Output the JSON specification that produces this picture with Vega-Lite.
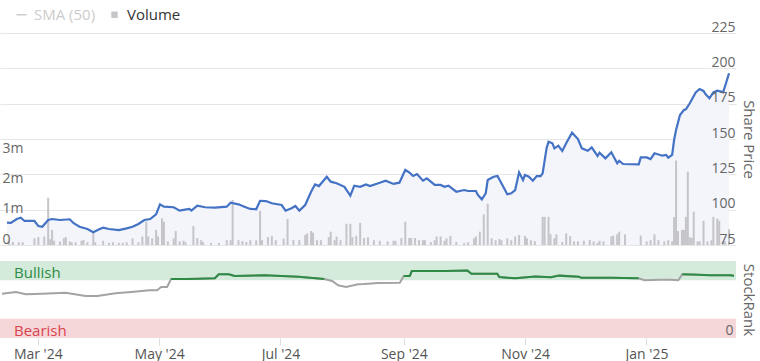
{
  "$schema": "https://vega.github.io/schema/vega-lite/v6.json",
  "padding": {"left": -3, "top": 7, "right": 0, "bottom": 0},
  "config": {"view": {"stroke": null}, "font": "Open Sans"},
  "spacing": 15,
  "datasets": {
    "price": [
      {"date": "2024-02-12", "price": 90.8}, {"date": "2024-02-14", "price": 90.6}, {"date": "2024-02-17", "price": 93.4}, {"date": "2024-02-19", "price": 94.3}, {"date": "2024-02-21", "price": 92.0}, {"date": "2024-02-26", "price": 92.0}, {"date": "2024-02-28", "price": 88.4},
      {"date": "2024-03-01", "price": 87.9}, {"date": "2024-03-04", "price": 92.7}, {"date": "2024-03-06", "price": 93.4}, {"date": "2024-03-10", "price": 92.7}, {"date": "2024-03-15", "price": 93.2}, {"date": "2024-03-17", "price": 90.4}, {"date": "2024-03-20", "price": 87.9}, {"date": "2024-03-24", "price": 86.3}, {"date": "2024-03-27", "price": 84.0}, {"date": "2024-03-30", "price": 86.1},
      {"date": "2024-04-01", "price": 87.2}, {"date": "2024-04-04", "price": 86.3}, {"date": "2024-04-09", "price": 85.6}, {"date": "2024-04-13", "price": 86.8}, {"date": "2024-04-16", "price": 87.9}, {"date": "2024-04-19", "price": 89.9}, {"date": "2024-04-22", "price": 92.7}, {"date": "2024-04-25", "price": 93.4}, {"date": "2024-04-28", "price": 96.7}, {"date": "2024-04-30", "price": 103.8},
      {"date": "2024-05-02", "price": 102.1}, {"date": "2024-05-07", "price": 101.7}, {"date": "2024-05-10", "price": 99.3}, {"date": "2024-05-12", "price": 99.8}, {"date": "2024-05-15", "price": 100.5}, {"date": "2024-05-16", "price": 99.3}, {"date": "2024-05-19", "price": 102.8}, {"date": "2024-05-23", "price": 101.7}, {"date": "2024-05-28", "price": 101.4},
      {"date": "2024-06-03", "price": 102.1}, {"date": "2024-06-05", "price": 104.9}, {"date": "2024-06-09", "price": 103.8}, {"date": "2024-06-12", "price": 102.1}, {"date": "2024-06-15", "price": 100.5}, {"date": "2024-06-18", "price": 100.3}, {"date": "2024-06-20", "price": 106.3}, {"date": "2024-06-23", "price": 106.1}, {"date": "2024-06-26", "price": 104.5},
      {"date": "2024-07-01", "price": 103.3}, {"date": "2024-07-03", "price": 99.3}, {"date": "2024-07-06", "price": 101.0}, {"date": "2024-07-08", "price": 102.6}, {"date": "2024-07-10", "price": 99.3}, {"date": "2024-07-13", "price": 103.3}, {"date": "2024-07-16", "price": 112.7}, {"date": "2024-07-18", "price": 117.9}, {"date": "2024-07-20", "price": 116.7}, {"date": "2024-07-24", "price": 123.3}, {"date": "2024-07-26", "price": 119.8}, {"date": "2024-07-29", "price": 118.7},
      {"date": "2024-08-02", "price": 116.2}, {"date": "2024-08-05", "price": 109.9}, {"date": "2024-08-07", "price": 117.0}, {"date": "2024-08-10", "price": 116.2}, {"date": "2024-08-13", "price": 117.9}, {"date": "2024-08-15", "price": 116.7}, {"date": "2024-08-20", "price": 119.0}, {"date": "2024-08-23", "price": 120.5}, {"date": "2024-08-27", "price": 118.2}, {"date": "2024-08-30", "price": 119.1},
      {"date": "2024-09-02", "price": 128.1}, {"date": "2024-09-04", "price": 126.4}, {"date": "2024-09-06", "price": 123.8}, {"date": "2024-09-08", "price": 125.2}, {"date": "2024-09-11", "price": 120.5}, {"date": "2024-09-13", "price": 122.2}, {"date": "2024-09-17", "price": 117.5}, {"date": "2024-09-20", "price": 117.5}, {"date": "2024-09-22", "price": 116.2}, {"date": "2024-09-24", "price": 117.0}, {"date": "2024-09-28", "price": 112.7},
      {"date": "2024-10-02", "price": 113.9}, {"date": "2024-10-04", "price": 113.2}, {"date": "2024-10-08", "price": 113.2}, {"date": "2024-10-09", "price": 110.4}, {"date": "2024-10-11", "price": 107.3}, {"date": "2024-10-13", "price": 111.6}, {"date": "2024-10-14", "price": 121.0}, {"date": "2024-10-17", "price": 123.3}, {"date": "2024-10-19", "price": 123.8}, {"date": "2024-10-21", "price": 118.7}, {"date": "2024-10-24", "price": 110.9}, {"date": "2024-10-26", "price": 111.6}, {"date": "2024-10-28", "price": 113.9}, {"date": "2024-10-30", "price": 126.4},
      {"date": "2024-11-01", "price": 121.0}, {"date": "2024-11-02", "price": 124.5}, {"date": "2024-11-04", "price": 123.3}, {"date": "2024-11-06", "price": 120.5}, {"date": "2024-11-08", "price": 123.8}, {"date": "2024-11-10", "price": 123.8}, {"date": "2024-11-11", "price": 125.7}, {"date": "2024-11-13", "price": 143.4}, {"date": "2024-11-14", "price": 148.1}, {"date": "2024-11-16", "price": 147.0}, {"date": "2024-11-17", "price": 143.4}, {"date": "2024-11-19", "price": 145.3}, {"date": "2024-11-21", "price": 141.5}, {"date": "2024-11-23", "price": 147.0}, {"date": "2024-11-26", "price": 154.5}, {"date": "2024-11-29", "price": 150.0},
      {"date": "2024-12-01", "price": 143.4}, {"date": "2024-12-04", "price": 141.7}, {"date": "2024-12-06", "price": 144.1}, {"date": "2024-12-09", "price": 138.0}, {"date": "2024-12-10", "price": 140.3}, {"date": "2024-12-13", "price": 136.3}, {"date": "2024-12-16", "price": 140.6}, {"date": "2024-12-19", "price": 132.8}, {"date": "2024-12-20", "price": 134.6}, {"date": "2024-12-22", "price": 132.3}, {"date": "2024-12-30", "price": 132.1}, {"date": "2024-12-31", "price": 137.0},
      {"date": "2025-01-03", "price": 137.0}, {"date": "2025-01-05", "price": 135.8}, {"date": "2025-01-07", "price": 139.9}, {"date": "2025-01-11", "price": 138.2}, {"date": "2025-01-13", "price": 138.7}, {"date": "2025-01-14", "price": 136.8}, {"date": "2025-01-16", "price": 138.7}, {"date": "2025-01-17", "price": 149.3}, {"date": "2025-01-18", "price": 156.4}, {"date": "2025-01-20", "price": 167.0}, {"date": "2025-01-22", "price": 170.5}, {"date": "2025-01-23", "price": 171.0}, {"date": "2025-01-25", "price": 175.3}, {"date": "2025-01-28", "price": 183.0}, {"date": "2025-01-30", "price": 185.4},
      {"date": "2025-02-01", "price": 184.0}, {"date": "2025-02-02", "price": 181.8}, {"date": "2025-02-04", "price": 178.8}, {"date": "2025-02-06", "price": 183.0}, {"date": "2025-02-08", "price": 184.2}, {"date": "2025-02-10", "price": 183.5}, {"date": "2025-02-11", "price": 183.0}, {"date": "2025-02-14", "price": 196.5}
    ],
    "volume": [
      {"date": "2024-02-13", "vol": 0.14}, {"date": "2024-02-15", "vol": 0.10}, {"date": "2024-02-18", "vol": 0.09}, {"date": "2024-02-20", "vol": 0.09}, {"date": "2024-02-26", "vol": 0.22}, {"date": "2024-02-28", "vol": 0.26},
      {"date": "2024-03-02", "vol": 0.28}, {"date": "2024-03-04", "vol": 1.56}, {"date": "2024-03-05", "vol": 0.19}, {"date": "2024-03-06", "vol": 0.50}, {"date": "2024-03-07", "vol": 0.14}, {"date": "2024-03-10", "vol": 0.12}, {"date": "2024-03-12", "vol": 0.22}, {"date": "2024-03-13", "vol": 0.26}, {"date": "2024-03-15", "vol": 0.12}, {"date": "2024-03-16", "vol": 0.09}, {"date": "2024-03-18", "vol": 0.09}, {"date": "2024-03-21", "vol": 0.14}, {"date": "2024-03-22", "vol": 0.16}, {"date": "2024-03-24", "vol": 0.09}, {"date": "2024-03-27", "vol": 0.44}, {"date": "2024-03-28", "vol": 0.09},
      {"date": "2024-04-01", "vol": 0.14}, {"date": "2024-04-04", "vol": 0.07}, {"date": "2024-04-06", "vol": 0.09}, {"date": "2024-04-09", "vol": 0.07}, {"date": "2024-04-11", "vol": 0.07}, {"date": "2024-04-13", "vol": 0.09}, {"date": "2024-04-16", "vol": 0.22}, {"date": "2024-04-19", "vol": 0.09}, {"date": "2024-04-21", "vol": 0.28}, {"date": "2024-04-23", "vol": 0.77}, {"date": "2024-04-24", "vol": 0.28}, {"date": "2024-04-26", "vol": 0.22}, {"date": "2024-04-28", "vol": 0.50}, {"date": "2024-04-29", "vol": 0.28},
      {"date": "2024-05-01", "vol": 0.88}, {"date": "2024-05-02", "vol": 0.77}, {"date": "2024-05-04", "vol": 0.12}, {"date": "2024-05-07", "vol": 0.22}, {"date": "2024-05-08", "vol": 0.46}, {"date": "2024-05-10", "vol": 0.12}, {"date": "2024-05-12", "vol": 0.14}, {"date": "2024-05-13", "vol": 0.09}, {"date": "2024-05-17", "vol": 0.63}, {"date": "2024-05-19", "vol": 0.23}, {"date": "2024-05-21", "vol": 0.16}, {"date": "2024-05-22", "vol": 0.09}, {"date": "2024-05-26", "vol": 0.07}, {"date": "2024-05-30", "vol": 0.07},
      {"date": "2024-06-03", "vol": 0.16}, {"date": "2024-06-05", "vol": 0.16}, {"date": "2024-06-06", "vol": 1.49}, {"date": "2024-06-09", "vol": 0.16}, {"date": "2024-06-11", "vol": 0.13}, {"date": "2024-06-13", "vol": 0.10}, {"date": "2024-06-15", "vol": 0.16}, {"date": "2024-06-18", "vol": 0.16}, {"date": "2024-06-20", "vol": 1.13}, {"date": "2024-06-21", "vol": 0.16}, {"date": "2024-06-24", "vol": 0.26}, {"date": "2024-06-26", "vol": 0.30}, {"date": "2024-06-28", "vol": 0.16},
      {"date": "2024-07-02", "vol": 0.21}, {"date": "2024-07-04", "vol": 0.86}, {"date": "2024-07-07", "vol": 0.16}, {"date": "2024-07-10", "vol": 0.16}, {"date": "2024-07-13", "vol": 0.33}, {"date": "2024-07-14", "vol": 0.38}, {"date": "2024-07-16", "vol": 0.46}, {"date": "2024-07-17", "vol": 0.41}, {"date": "2024-07-19", "vol": 0.16}, {"date": "2024-07-21", "vol": 0.16}, {"date": "2024-07-25", "vol": 0.26}, {"date": "2024-07-26", "vol": 0.44}, {"date": "2024-07-28", "vol": 0.16}, {"date": "2024-07-29", "vol": 0.28}, {"date": "2024-07-31", "vol": 0.16},
      {"date": "2024-08-03", "vol": 0.70}, {"date": "2024-08-05", "vol": 0.70}, {"date": "2024-08-06", "vol": 0.26}, {"date": "2024-08-08", "vol": 0.30}, {"date": "2024-08-10", "vol": 0.73}, {"date": "2024-08-12", "vol": 0.23}, {"date": "2024-08-14", "vol": 0.26}, {"date": "2024-08-17", "vol": 0.16}, {"date": "2024-08-20", "vol": 0.14}, {"date": "2024-08-24", "vol": 0.12}, {"date": "2024-08-27", "vol": 0.14}, {"date": "2024-08-28", "vol": 0.14}, {"date": "2024-08-31", "vol": 0.23},
      {"date": "2024-09-02", "vol": 0.77}, {"date": "2024-09-04", "vol": 0.23}, {"date": "2024-09-05", "vol": 0.23}, {"date": "2024-09-07", "vol": 0.23}, {"date": "2024-09-09", "vol": 0.16}, {"date": "2024-09-11", "vol": 0.16}, {"date": "2024-09-12", "vol": 0.16}, {"date": "2024-09-15", "vol": 0.10}, {"date": "2024-09-17", "vol": 0.16}, {"date": "2024-09-18", "vol": 0.28}, {"date": "2024-09-20", "vol": 0.28}, {"date": "2024-09-22", "vol": 0.14}, {"date": "2024-09-23", "vol": 0.22}, {"date": "2024-09-25", "vol": 0.30}, {"date": "2024-09-28", "vol": 0.10},
      {"date": "2024-10-02", "vol": 0.06}, {"date": "2024-10-04", "vol": 0.09}, {"date": "2024-10-07", "vol": 0.22}, {"date": "2024-10-08", "vol": 0.28}, {"date": "2024-10-10", "vol": 0.44}, {"date": "2024-10-12", "vol": 1.01}, {"date": "2024-10-14", "vol": 1.36}, {"date": "2024-10-16", "vol": 0.22}, {"date": "2024-10-18", "vol": 0.16}, {"date": "2024-10-20", "vol": 0.20}, {"date": "2024-10-21", "vol": 0.16}, {"date": "2024-10-24", "vol": 0.22}, {"date": "2024-10-26", "vol": 0.16}, {"date": "2024-10-28", "vol": 0.28}, {"date": "2024-10-30", "vol": 0.33},
      {"date": "2024-11-02", "vol": 0.30}, {"date": "2024-11-03", "vol": 0.22}, {"date": "2024-11-05", "vol": 0.16}, {"date": "2024-11-07", "vol": 0.13}, {"date": "2024-11-11", "vol": 0.93}, {"date": "2024-11-12", "vol": 0.93}, {"date": "2024-11-14", "vol": 0.93}, {"date": "2024-11-15", "vol": 0.36}, {"date": "2024-11-17", "vol": 0.22}, {"date": "2024-11-18", "vol": 0.35}, {"date": "2024-11-21", "vol": 0.10}, {"date": "2024-11-23", "vol": 0.38}, {"date": "2024-11-25", "vol": 0.29}, {"date": "2024-11-27", "vol": 0.12}, {"date": "2024-11-29", "vol": 0.12},
      {"date": "2024-12-02", "vol": 0.14}, {"date": "2024-12-05", "vol": 0.17}, {"date": "2024-12-07", "vol": 0.12}, {"date": "2024-12-09", "vol": 0.07}, {"date": "2024-12-10", "vol": 0.14}, {"date": "2024-12-12", "vol": 0.12}, {"date": "2024-12-16", "vol": 0.29}, {"date": "2024-12-17", "vol": 0.31}, {"date": "2024-12-19", "vol": 0.35}, {"date": "2024-12-20", "vol": 0.44}, {"date": "2024-12-23", "vol": 0.35}, {"date": "2024-12-31", "vol": 0.31},
      {"date": "2025-01-03", "vol": 0.12}, {"date": "2025-01-05", "vol": 0.16}, {"date": "2025-01-07", "vol": 0.35}, {"date": "2025-01-09", "vol": 0.16}, {"date": "2025-01-12", "vol": 0.12}, {"date": "2025-01-14", "vol": 0.16}, {"date": "2025-01-16", "vol": 0.12}, {"date": "2025-01-17", "vol": 0.92}, {"date": "2025-01-18", "vol": 2.79}, {"date": "2025-01-19", "vol": 0.46}, {"date": "2025-01-21", "vol": 0.50}, {"date": "2025-01-22", "vol": 0.50}, {"date": "2025-01-23", "vol": 0.93}, {"date": "2025-01-24", "vol": 2.42}, {"date": "2025-01-25", "vol": 0.26}, {"date": "2025-01-26", "vol": 0.23}, {"date": "2025-01-27", "vol": 1.10}, {"date": "2025-01-29", "vol": 0.12}, {"date": "2025-01-30", "vol": 0.12},
      {"date": "2025-02-01", "vol": 0.80}, {"date": "2025-02-03", "vol": 0.12}, {"date": "2025-02-05", "vol": 0.16}, {"date": "2025-02-06", "vol": 0.93}, {"date": "2025-02-08", "vol": 0.87}, {"date": "2025-02-09", "vol": 0.80}, {"date": "2025-02-11", "vol": 0.12}, {"date": "2025-02-12", "vol": 0.12}, {"date": "2025-02-14", "vol": 0.52}
    ],
    "rank": [
      {"date": "2024-02-12", "rank": 57.5}, {"date": "2024-02-19", "rank": 59.7}, {"date": "2024-02-24", "rank": 56.7}, {"date": "2024-03-03", "rank": 57.5}, {"date": "2024-03-15", "rank": 58.8}, {"date": "2024-03-25", "rank": 54.5}, {"date": "2024-03-31", "rank": 54.5}, {"date": "2024-04-09", "rank": 58}, {"date": "2024-04-17", "rank": 59.7}, {"date": "2024-04-26", "rank": 62}, {"date": "2024-04-30", "rank": 62}, {"date": "2024-05-02", "rank": 66.2}, {"date": "2024-05-05", "rank": 66.2}, {"date": "2024-05-07", "rank": 76.5}, {"date": "2024-05-15", "rank": 76.5}, {"date": "2024-05-21", "rank": 77}, {"date": "2024-05-29", "rank": 77.5}, {"date": "2024-05-31", "rank": 82.7}, {"date": "2024-06-05", "rank": 82.7}, {"date": "2024-06-08", "rank": 80.5}, {"date": "2024-06-23", "rank": 81.4}, {"date": "2024-07-10", "rank": 79.6}, {"date": "2024-07-23", "rank": 76.5}, {"date": "2024-07-27", "rank": 74}, {"date": "2024-07-30", "rank": 68.4}, {"date": "2024-08-03", "rank": 66.2}, {"date": "2024-08-09", "rank": 69.7}, {"date": "2024-08-12", "rank": 70.1}, {"date": "2024-08-19", "rank": 71.5}, {"date": "2024-08-30", "rank": 71.8}, {"date": "2024-09-01", "rank": 80.5}, {"date": "2024-09-04", "rank": 80.5}, {"date": "2024-09-05", "rank": 87}, {"date": "2024-09-22", "rank": 87}, {"date": "2024-10-03", "rank": 87.5}, {"date": "2024-10-05", "rank": 83.5}, {"date": "2024-10-18", "rank": 83.5}, {"date": "2024-10-19", "rank": 79.2}, {"date": "2024-10-27", "rank": 77.5}, {"date": "2024-11-06", "rank": 80}, {"date": "2024-11-14", "rank": 79}, {"date": "2024-11-18", "rank": 81}, {"date": "2024-11-28", "rank": 79.6}, {"date": "2024-11-29", "rank": 78.4}, {"date": "2024-12-14", "rank": 78.4}, {"date": "2024-12-28", "rank": 77.5}, {"date": "2024-12-31", "rank": 75}, {"date": "2025-01-08", "rank": 75.5}, {"date": "2025-01-13", "rank": 75.8}, {"date": "2025-01-17", "rank": 74.9}, {"date": "2025-01-19", "rank": 82.7}, {"date": "2025-01-27", "rank": 82}, {"date": "2025-02-02", "rank": 81.4}, {"date": "2025-02-12", "rank": 81.4}, {"date": "2025-02-14", "rank": 81}
    ],
    "zones": [
      {"zone": "Bullish", "lo": 75, "hi": 100},
      {"zone": "Bearish", "lo": 0, "hi": 25}
    ]
  },
  "vconcat": [
    {
      "width": 736,
      "height": 212,
      "resolve": {"scale": {"y": "independent"}},
      "layer": [
        {
          "data": {"name": "price"},
          "mark": {"type": "area", "color": "#f3f5fb"},
          "encoding": {
            "x": {"field": "date", "type": "temporal", "scale": {"domain": ["2024-02-11T00:00:00", "2025-02-15T00:00:00"]}, "axis": null},
            "y": {"field": "price", "type": "quantitative", "scale": {"domain": [75, 225], "zero": false, "nice": false},
              "axis": {"orient": "right", "values": [75, 100, 125, 150, 175, 200, 225], "grid": false, "domain": false, "ticks": false, "tickSize": 0, "labelAlign": "right", "labelPadding": -1, "labelBaseline": "alphabetic", "labelOffset": -2, "labelFontSize": 14, "labelColor": "#666666", "title": "Share Price", "titleFontSize": 15, "titleFontWeight": "normal", "titleColor": "#666666", "titlePadding": 4, "zindex": 1}},
            "y2": {"datum": 75}
          }
        },
        {
          "data": {"name": "volume"},
          "mark": {"type": "bar", "size": 2},
          "encoding": {
            "x": {"field": "date", "type": "temporal", "scale": {"domain": ["2024-02-11T00:00:00", "2025-02-15T00:00:00"]}, "axis": null},
            "y": {"field": "vol", "type": "quantitative", "scale": {"domain": [0, 7], "nice": false},
              "axis": {"orient": "left", "values": [0, 1, 2, 3], "grid": false, "domain": false, "ticks": false, "tickSize": 0, "labelAlign": "left", "labelPadding": -2, "labelBaseline": "alphabetic", "labelOffset": -2, "labelFontSize": 14, "labelColor": "#666666", "labelExpr": "datum.value == 0 ? '0' : datum.value + 'm'", "title": null, "zindex": 1, "minExtent": 0, "maxExtent": 0}},
            "color": {"datum": "Volume", "type": "nominal",
              "scale": {"domain": ["SMA (50)", "Volume"], "range": ["#cccccc", "#c4c4c9"]},
              "legend": {"orient": "none", "legendX": 14, "legendY": -26, "direction": "horizontal", "title": null, "labelFontSize": 15, "labelColor": "#333333", "labelOffset": 5, "columnPadding": 11, "symbolSize": 60,
                "encode": {
                  "labels": {"update": {"fill": {"signal": "datum.label === 'SMA (50)' ? '#cccccc' : '#333333'"}}},
                  "symbols": {"update": {
                    "shape": {"signal": "datum.label === 'SMA (50)' ? 'stroke' : 'square'"},
                    "size": {"signal": "datum.label === 'SMA (50)' ? 100 : 40"},
                    "stroke": {"value": "#cccccc"},
                    "strokeWidth": {"signal": "datum.label === 'SMA (50)' ? 1.5 : 0"},
                    "fill": {"signal": "datum.label === 'SMA (50)' ? '#cccccc' : '#aaaaaa'"}
                  }}
                }
              }
            }
          }
        },
        {
          "data": {"name": "price"},
          "mark": {"type": "line", "color": "#4472c4", "strokeWidth": 2.2},
          "encoding": {
            "x": {"field": "date", "type": "temporal", "scale": {"domain": ["2024-02-11T00:00:00", "2025-02-15T00:00:00"]}, "axis": null},
            "y": {"field": "price", "type": "quantitative", "scale": {"domain": [75, 225], "zero": false, "nice": false},
              "axis": {"orient": "right", "values": [75, 100, 125, 150, 175, 200, 225], "grid": true, "gridColor": "#e6e6e6", "labels": false, "domain": false, "ticks": false, "title": null, "minExtent": 0, "maxExtent": 0, "zindex": 0}}
          }
        }
      ]
    },
    {
      "width": 736,
      "height": 77,
      "layer": [
        {
          "data": {"name": "zones"},
          "mark": {"type": "rect"},
          "encoding": {
            "y": {"field": "lo", "type": "quantitative", "scale": {"domain": [0, 100], "nice": false},
              "axis": {"orient": "right", "values": [0], "grid": false, "domain": false, "ticks": false, "tickSize": 0, "labelAlign": "right", "labelPadding": -3, "labelBaseline": "alphabetic", "labelOffset": -4, "labelFontSize": 14, "labelColor": "#666666", "title": "StockRank", "titleFontSize": 15, "titleFontWeight": "normal", "titleColor": "#666666", "titlePadding": 4, "zindex": 1}},
            "y2": {"field": "hi"},
            "fill": {"condition": {"test": "datum.zone === 'Bullish'", "value": "#d4eadb"}, "value": "#f5d7d9"}
          }
        },
        {
          "data": {"name": "zones"},
          "mark": {"type": "text", "align": "left", "baseline": "alphabetic", "dx": 14, "dy": -2, "fontSize": 15},
          "encoding": {
            "x": {"datum": {"year": 2024, "month": 2, "date": 11}, "type": "temporal"},
            "y": {"field": "lo", "type": "quantitative"},
            "text": {"field": "zone"},
            "color": {"condition": {"test": "datum.zone === 'Bullish'", "value": "#2e8b45"}, "value": "#d9434f"}
          }
        },
        {
          "mark": {"type": "rule", "color": "#e3e3e3", "strokeWidth": 1},
          "encoding": {"y": {"datum": 100, "type": "quantitative"}}
        },
        {
          "data": {"name": "rank"},
          "mark": {"type": "line", "color": "#a3a3a3", "strokeWidth": 2},
          "encoding": {
            "x": {"field": "date", "type": "temporal", "scale": {"domain": ["2024-02-11T00:00:00", "2025-02-15T00:00:00"]},
              "axis": {"values": [{"year": 2024, "month": 3, "date": 1}, {"year": 2024, "month": 5, "date": 1}, {"year": 2024, "month": 7, "date": 1}, {"year": 2024, "month": 9, "date": 1}, {"year": 2024, "month": 11, "date": 1}, {"year": 2025, "month": 1, "date": 1}], "format": "%b '%y", "grid": false, "domain": false, "ticks": true, "tickSize": 7, "tickColor": "#dddddd", "labelPadding": 2, "labelFontSize": 14, "labelColor": "#555555", "title": null, "labelFlush": false}},
            "y": {"field": "rank", "type": "quantitative"}
          }
        },
        {
          "data": {"name": "rank"},
          "transform": [{"calculate": "datum.rank >= 76 ? datum.rank : null", "as": "bull"}],
          "mark": {"type": "line", "color": "#2e8b45", "strokeWidth": 2, "invalid": "break-paths-filter-domains"},
          "encoding": {
            "x": {"field": "date", "type": "temporal"},
            "y": {"field": "bull", "type": "quantitative"}
          }
        }
      ]
    }
  ]
}
